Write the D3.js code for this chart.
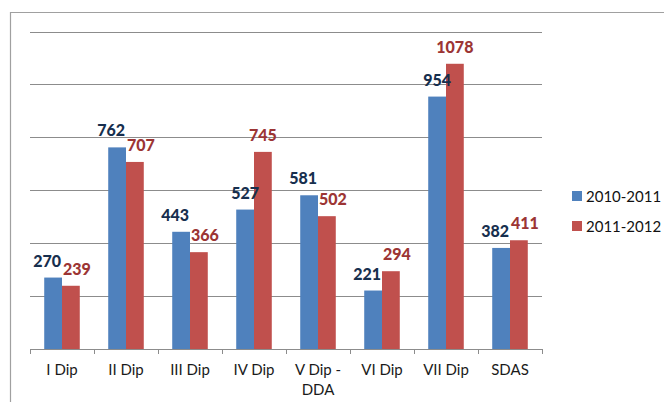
<!DOCTYPE html>
<html><head><meta charset="utf-8">
<script src="https://cdn.jsdelivr.net/npm/d3@7"></script>
<style>
html,body{margin:0;padding:0;background:#fff;}
svg{display:block;}
</style></head>
<body>
<svg id="c" width="664" height="402"></svg>
<script>
const categories = ["I Dip","II Dip","III Dip","IV Dip","V Dip - DDA","VI Dip","VII Dip","SDAS"];
const seriesNames = ["2010-2011","2011-2012"];
const values2010 = [270,762,443,527,581,221,954,382];
const values2011 = [239,707,366,745,502,294,1078,411];
const gridTicks = [0,200,400,600,800,1000,1200];

const barColors = ["#4F81BD","#C0504D"];
const labelColors = ["#172F4E","#9C3534"];

const svg = d3.select("#c");

// outer frame
svg.append("path").attr("d","M10.5,402 V12.5 H664").attr("fill","none").attr("stroke","#a0a0a0").attr("stroke-width",1.2);

const x0 = d3.scaleBand().domain(categories).range([30,542]).paddingInner(0).paddingOuter(0);
const x1 = d3.scaleBand().domain(seriesNames).range([0,x0.bandwidth()]).paddingInner(0).paddingOuter(0.8);
const y = d3.scaleLinear().domain([0,1200]).range([349,31.5]);

// gridlines
svg.append("g").selectAll("line").data(gridTicks.filter(d=>d>0)).join("line")
  .attr("x1",30).attr("x2",542)
  .attr("y1",d=>Math.round(y(d))+0.5).attr("y2",d=>Math.round(y(d))+0.5)
  .attr("stroke","#8c8c8c").attr("stroke-width",1);

// bars
const data = categories.map((c,i)=>({cat:c, vals:[values2010[i], values2011[i]]}));
const groups = svg.append("g").selectAll("g").data(data).join("g")
  .attr("transform",d=>`translate(${x0(d.cat)},0)`);
groups.selectAll("rect").data(d=>d.vals.map((v,j)=>({v,j}))).join("rect")
  .attr("x",d=>x1(seriesNames[d.j]))
  .attr("width",x1.bandwidth())
  .attr("y",d=>y(d.v))
  .attr("height",d=>y(0)-y(d.v))
  .attr("fill",d=>barColors[d.j]);

// x axis
const xAxis = d3.axisBottom(x0).tickSize(0).tickFormat("");
const ax = svg.append("g").attr("transform",`translate(0,${349.5})`).call(xAxis);
ax.select(".domain").attr("stroke","#8c8c8c").attr("d","M30,0H542");
const bounds = categories.map(c=>x0(c)).concat([542]);
svg.append("g").selectAll("line").data(bounds).join("line")
  .attr("x1",d=>Math.round(d)+0.5).attr("x2",d=>Math.round(d)+0.5)
  .attr("y1",349).attr("y2",354).attr("stroke","#8c8c8c");

// category labels with wrapping
const catG = svg.append("g").attr("font-family","Lato, 'Open Sans', sans-serif").attr("font-size","15px").attr("fill","#1a1a1a");
categories.forEach(c=>{
  const cx = x0(c)+x0.bandwidth()/2;
  const t = catG.append("text").attr("x",cx).attr("y",375).attr("text-anchor","middle");
  const words = c.split(" ");
  let line = [], lines = [];
  const maxW = x0.bandwidth()-4;
  const tmp = catG.append("text").attr("visibility","hidden");
  words.forEach(w=>{
    const test = line.concat([w]).join(" ");
    tmp.text(test);
    if (tmp.node().getComputedTextLength() > maxW && line.length) { lines.push(line.join(" ")); line=[w]; }
    else line.push(w);
  });
  lines.push(line.join(" "));
  tmp.remove();
  lines.forEach((l,k)=>t.append("tspan").attr("x",cx).attr("dy",k===0?0:19.5).text(l));
});

// data labels with simple overlap avoidance
const lblG = svg.append("g").attr("font-family","Lato, 'Open Sans', sans-serif").attr("font-size","16px").attr("font-weight","900");
data.forEach(d=>{
  const base = x0(d.cat);
  const items = d.vals.map((v,j)=>({v,j,cx:base+x1(seriesNames[j])+x1.bandwidth()/2, y:y(v)-11}));
  const texts = items.map(it=>lblG.append("text").attr("text-anchor","middle").attr("fill",labelColors[it.j]).attr("x",it.cx).attr("y",it.y).text(it.v));
  const w = texts.map(t=>t.node().getComputedTextLength());
  const dy = Math.abs(items[0].y-items[1].y);
  if (dy < 24) {
    const mid = (items[0].cx+items[1].cx)/2;
    const half = (w[0]+w[1])/4 + 1;
    texts[0].attr("x", mid - half);
    texts[1].attr("x", mid + half);
  }
});

// legend
const lg = svg.append("g").attr("font-family","Lato, 'Open Sans', sans-serif").attr("font-size","15px").attr("fill","#111");
seriesNames.forEach((s,i)=>{
  const yy = 191 + i*30;
  lg.append("rect").attr("x",572).attr("y",yy).attr("width",10).attr("height",10).attr("fill",barColors[i]);
  lg.append("text").attr("x",586).attr("y",yy+10.5).text(s);
});
</script>
</body></html>
